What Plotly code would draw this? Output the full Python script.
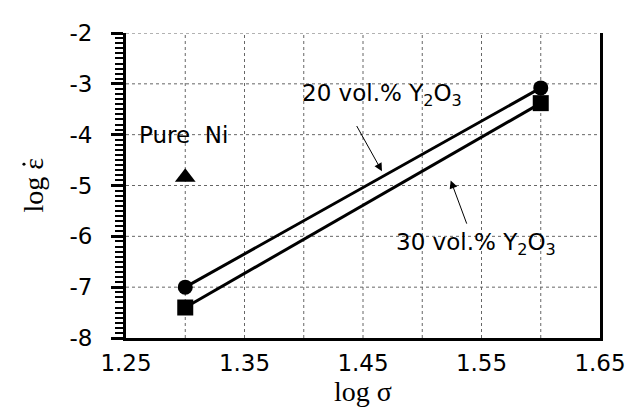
import plotly.graph_objects as go

log_sigma = [1.30, 1.60]
y20 = [-7.0, -3.08]
y30 = [-7.4, -3.38]
ni_x = [1.30]
ni_y = [-4.84]

x_ticks = [1.25, 1.35, 1.45, 1.55, 1.65]
x_ticklabels = ["1.25", "1.35", "1.45", "1.55", "1.65"]
y_ticks = [-8, -7, -6, -5, -4, -3, -2]
y_ticklabels = ["-8", "-7", "-6", "-5", "-4", "-3", "-2"]

FONT = "DejaVu Sans"
SERIF = "Liberation Serif"

fig = go.Figure()
fig.add_trace(go.Scatter(x=log_sigma, y=y20, mode="lines+markers",
                         line=dict(color="black", width=3),
                         marker=dict(symbol="circle", size=15, color="black")))
fig.add_trace(go.Scatter(x=log_sigma, y=y30, mode="lines+markers",
                         line=dict(color="black", width=3),
                         marker=dict(symbol="square", size=16, color="black")))
fig.add_trace(go.Scatter(x=ni_x, y=ni_y, mode="markers",
                         marker=dict(symbol="triangle-up", size=18, color="black")))

grid_x = [1.25 + 0.05 * i for i in range(1, 8)]
for gx in grid_x:
    fig.add_shape(type="line", x0=gx, x1=gx, y0=-8, y1=-2, xref="x", yref="y",
                  line=dict(color="#666", width=1, dash="dot"), layer="below")
for gy in y_ticks[1:]:
    fig.add_shape(type="line", x0=1.25, x1=1.65, y0=gy, y1=gy, xref="x", yref="y",
                  line=dict(color="#666", width=1, dash="dot"), layer="below")

fig.add_annotation(x=1.466, y=-3.22, text="20 vol.% Y<sub>2</sub>O<sub>3</sub>",
                   showarrow=False, font=dict(family=FONT, size=23, color="black"))
fig.add_annotation(x=1.545, y=-6.15, text="30 vol.% Y<sub>2</sub>O<sub>3</sub>",
                   showarrow=False, font=dict(family=FONT, size=23, color="black"))
fig.add_annotation(x=1.2985, y=-4.0, text="Pure  Ni",
                   showarrow=False, font=dict(family=FONT, size=23, color="black"))
fig.add_annotation(x=1.466, y=-4.72, ax=1.444, ay=-3.80, xref="x", yref="y",
                   axref="x", ayref="y", text="", showarrow=True,
                   arrowhead=2, arrowsize=1.6, arrowwidth=1, arrowcolor="black")
fig.add_annotation(x=1.524, y=-4.90, ax=1.538, ay=-5.78, xref="x", yref="y",
                   axref="x", ayref="y", text="", showarrow=True,
                   arrowhead=2, arrowsize=1.6, arrowwidth=1, arrowcolor="black")

# y-axis title with a dot over epsilon
fig.add_annotation(xref="paper", yref="paper", x=-0.196, y=0.50, text="log ε",
                   textangle=-90, showarrow=False, xanchor="center", yanchor="middle",
                   font=dict(family=SERIF, size=28, color="black"))
fig.add_shape(type="circle", xref="paper", yref="paper",
              x0=-0.2185, x1=-0.2120, y0=0.5650, y1=0.5745,
              fillcolor="black", line=dict(width=0))

fig.update_layout(
    width=633, height=420,
    margin=dict(l=118, r=41, t=19, b=90),
    plot_bgcolor="white", paper_bgcolor="white",
    showlegend=False,
    xaxis=dict(range=[1.25, 1.65], tickvals=x_ticks, ticktext=x_ticklabels,
               showgrid=False, zeroline=False, showline=True, linecolor="black",
               linewidth=3, ticks="", ticklabelstandoff=2,
               tickfont=dict(family=FONT, size=23, color="black"),
               title=dict(text="log σ", font=dict(family=SERIF, size=28, color="black"),
                          standoff=6)),
    yaxis=dict(range=[-8, -2], tickvals=y_ticks, ticktext=y_ticklabels,
               showgrid=False, zeroline=False,
               showline=True, mirror=True, linecolor="black", linewidth=3,
               ticks="outside", ticklen=12, tickwidth=3, tickcolor="black",
               ticklabelstandoff=14,
               minor=dict(dtick=0.1, ticks="outside", ticklen=8, tickwidth=2,
                          tickcolor="black", showgrid=False),
               tickfont=dict(family=FONT, size=23, color="black")),
)

fig.write_html("out.html")
